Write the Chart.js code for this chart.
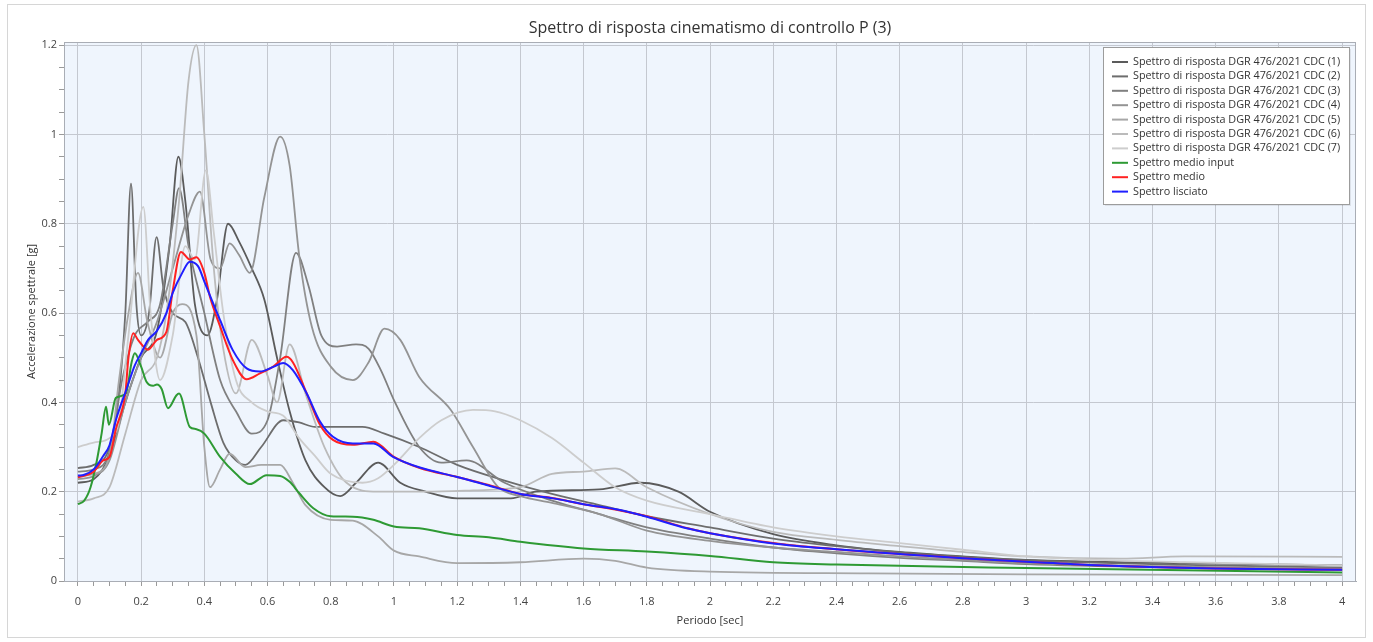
<!DOCTYPE html>
<html>
<head>
<meta charset="utf-8">
<script src="https://cdn.jsdelivr.net/npm/chart.js@4.4.1/dist/chart.umd.min.js"></script>
<style>
  html, body { margin: 0; background: #fff; }
</style>
</head>
<body>
<canvas id="chart" width="1373" height="642"></canvas>
<script>
const chartTitle = "Spettro di risposta cinematismo di controllo P (3)";
const xTitle = "Periodo [sec]";
const yTitle = "Accelerazione spettrale [g]";

const seriesNames = [
  "Spettro di risposta DGR 476/2021 CDC (1)",
  "Spettro di risposta DGR 476/2021 CDC (2)",
  "Spettro di risposta DGR 476/2021 CDC (3)",
  "Spettro di risposta DGR 476/2021 CDC (4)",
  "Spettro di risposta DGR 476/2021 CDC (5)",
  "Spettro di risposta DGR 476/2021 CDC (6)",
  "Spettro di risposta DGR 476/2021 CDC (7)",
  "Spettro medio input",
  "Spettro medio",
  "Spettro lisciato"
];
const seriesColors = ['#5b5b5b', '#6d6d6d', '#808080', '#949494', '#a7a7a7', '#bbbbbb', '#cdcdcd', '#2e9a34', '#ff2222', '#1f1fff'];

// periodi [sec] e accelerazioni [g] per ogni spettro
const t1 = [0, 0.05, 0.1, 0.15, 0.2, 0.25, 0.29, 0.318, 0.34, 0.37, 0.41, 0.44, 0.475, 0.51, 0.55, 0.59, 0.63, 0.67, 0.72, 0.78, 0.83, 0.88, 0.95, 1.02, 1.1, 1.2, 1.37, 1.45, 1.65, 1.78, 1.9, 2.0, 2.2, 2.4, 2.6, 2.8, 3.0, 3.5, 4.0];
const a1 = [0.22, 0.228, 0.28, 0.4, 0.5, 0.56, 0.75, 0.95, 0.85, 0.62, 0.55, 0.63, 0.8, 0.76, 0.7, 0.63, 0.5, 0.38, 0.27, 0.21, 0.19, 0.22, 0.265, 0.22, 0.2, 0.185, 0.185, 0.2, 0.205, 0.22, 0.2, 0.155, 0.105, 0.08, 0.065, 0.055, 0.047, 0.04, 0.035];

const t2 = [0, 0.05, 0.1, 0.13, 0.15, 0.168, 0.185, 0.2, 0.225, 0.249, 0.27, 0.3, 0.34, 0.38, 0.42, 0.46, 0.5, 0.53, 0.58, 0.65, 0.7, 0.75, 0.8, 0.9, 0.97, 1.08, 1.2, 1.35, 1.5, 1.65, 1.8, 2.0, 2.2, 2.4, 2.6, 2.8, 3.0, 3.5, 4.0];
const a2 = [0.253, 0.26, 0.3, 0.42, 0.6, 0.89, 0.62, 0.55, 0.6, 0.77, 0.66, 0.6, 0.58, 0.5, 0.4, 0.31, 0.27, 0.26, 0.3, 0.36, 0.355, 0.345, 0.345, 0.345, 0.33, 0.3, 0.26, 0.225, 0.195, 0.17, 0.145, 0.12, 0.095, 0.078, 0.064, 0.054, 0.046, 0.036, 0.03];

const t3 = [0, 0.05, 0.1, 0.14, 0.18, 0.22, 0.26, 0.3, 0.32, 0.35, 0.4, 0.45, 0.5, 0.55, 0.6, 0.64, 0.69, 0.73, 0.77, 0.82, 0.88, 0.92, 0.96, 1.0, 1.08, 1.15, 1.23, 1.35, 1.5, 1.65, 1.8, 2.0, 2.2, 2.4, 2.6, 2.8, 3.0, 3.5, 4.0];
const a3 = [0.245, 0.25, 0.29, 0.45, 0.55, 0.58, 0.62, 0.8, 0.88, 0.75, 0.6, 0.45, 0.38, 0.33, 0.36, 0.5, 0.735, 0.66, 0.55, 0.525, 0.53, 0.52, 0.47, 0.405, 0.3, 0.265, 0.27, 0.22, 0.18, 0.15, 0.12, 0.095, 0.075, 0.062, 0.052, 0.045, 0.038, 0.03, 0.025];

const t4 = [0, 0.05, 0.1, 0.15, 0.2, 0.25, 0.3, 0.35, 0.386, 0.42, 0.45, 0.48, 0.51, 0.544, 0.59, 0.64, 0.67, 0.7, 0.74, 0.8, 0.87, 0.92, 0.97, 1.02, 1.08, 1.18, 1.25, 1.33, 1.4, 1.5, 1.65, 1.8, 2.0, 2.2, 2.4, 2.6, 2.8, 3.0, 3.5, 4.0];
const a4 = [0.228, 0.235, 0.27, 0.4, 0.5, 0.58, 0.7, 0.82, 0.872, 0.72, 0.7, 0.756, 0.73, 0.69, 0.86, 0.995, 0.93, 0.73, 0.57, 0.48, 0.45, 0.49, 0.565, 0.54, 0.457, 0.383, 0.3, 0.21, 0.19, 0.175, 0.15, 0.113, 0.09, 0.075, 0.065, 0.055, 0.047, 0.04, 0.032, 0.027];

const t5 = [0, 0.05, 0.1, 0.13, 0.16, 0.19, 0.22, 0.26, 0.3, 0.33, 0.375, 0.4, 0.418, 0.45, 0.48, 0.53, 0.58, 0.64, 0.68, 0.72, 0.8, 0.87, 0.95, 1.0, 1.08, 1.2, 1.4, 1.6, 1.7, 1.8, 2.0, 2.5, 3.0, 4.0];
const a5 = [0.235, 0.24, 0.28, 0.45, 0.6, 0.69, 0.58, 0.5, 0.6, 0.62, 0.55, 0.3, 0.21, 0.25, 0.285, 0.255, 0.26, 0.26, 0.22, 0.17, 0.137, 0.135, 0.1, 0.068, 0.055, 0.04, 0.042, 0.05, 0.045, 0.03, 0.021, 0.017, 0.015, 0.013];

const t6 = [0, 0.05, 0.1, 0.15, 0.2, 0.25, 0.28, 0.32, 0.35, 0.375, 0.4, 0.43, 0.46, 0.5, 0.55, 0.6, 0.63, 0.67, 0.72, 0.78, 0.85, 0.95, 1.1, 1.25, 1.4, 1.5, 1.6, 1.7, 1.8, 2.0, 2.2, 2.4, 2.6, 2.8, 3.0, 3.3, 3.5, 4.0];
const a6 = [0.178, 0.185, 0.21, 0.33, 0.45, 0.5, 0.6, 0.85, 1.12, 1.2, 1.0, 0.7, 0.52, 0.42, 0.54, 0.46, 0.4, 0.53, 0.42, 0.3, 0.22, 0.2, 0.2, 0.203, 0.21, 0.24, 0.245, 0.252, 0.21, 0.15, 0.11, 0.092, 0.078, 0.065, 0.055, 0.05, 0.055, 0.054];

const t7 = [0, 0.05, 0.1, 0.13, 0.16, 0.207, 0.23, 0.26, 0.3, 0.34, 0.37, 0.405, 0.43, 0.46, 0.5, 0.55, 0.6, 0.65, 0.7, 0.75, 0.8, 0.9, 0.95, 1.0, 1.08, 1.15, 1.25, 1.32, 1.4, 1.5, 1.6, 1.7, 1.8, 2.0, 2.2, 2.4, 2.6, 2.8, 3.0, 3.2, 3.5, 4.0];
const a7 = [0.3, 0.31, 0.32, 0.36, 0.55, 0.838, 0.6, 0.45, 0.55, 0.75, 0.72, 0.92, 0.78, 0.6, 0.45, 0.4, 0.38, 0.37, 0.32, 0.28, 0.24, 0.22, 0.23, 0.26, 0.32, 0.36, 0.383, 0.38, 0.36, 0.32, 0.265, 0.21, 0.18, 0.15, 0.12, 0.1, 0.085, 0.07, 0.055, 0.048, 0.042, 0.035];

// spettro medio input (verde)
const tg = [0, 0.02, 0.04, 0.06, 0.075, 0.089, 0.098, 0.12, 0.152, 0.17, 0.18, 0.2, 0.217, 0.238, 0.25, 0.265, 0.285, 0.312, 0.32, 0.354, 0.375, 0.4, 0.45, 0.5, 0.544, 0.597, 0.64, 0.67, 0.7, 0.745, 0.8, 0.87, 0.935, 1.0, 1.08, 1.2, 1.3, 1.4, 1.6, 1.8, 2.0, 2.2, 2.4, 3.0, 4.0];
const ag = [0.172, 0.18, 0.21, 0.27, 0.33, 0.39, 0.35, 0.41, 0.42, 0.49, 0.51, 0.48, 0.446, 0.437, 0.44, 0.43, 0.387, 0.416, 0.42, 0.345, 0.34, 0.33, 0.278, 0.24, 0.217, 0.237, 0.235, 0.222, 0.197, 0.163, 0.145, 0.144, 0.137, 0.122, 0.118, 0.103, 0.098, 0.088, 0.073, 0.066, 0.056, 0.042, 0.037, 0.029, 0.019];

// spettro medio (rosso)
const tr = [0, 0.05, 0.08, 0.1, 0.12, 0.15, 0.16, 0.175, 0.19, 0.222, 0.25, 0.28, 0.3, 0.326, 0.354, 0.375, 0.4, 0.418, 0.45, 0.49, 0.534, 0.576, 0.618, 0.66, 0.68, 0.724, 0.766, 0.807, 0.87, 0.935, 1.0, 1.082, 1.2, 1.3, 1.4, 1.5, 1.6, 1.7, 1.8, 1.93, 2.0, 2.2, 2.4, 2.8, 3.0, 3.2, 3.6, 4.0];
const ar = [0.232, 0.245, 0.27, 0.278, 0.34, 0.42, 0.5, 0.555, 0.54, 0.518, 0.54, 0.558, 0.65, 0.737, 0.72, 0.725, 0.69, 0.636, 0.57, 0.495, 0.452, 0.465, 0.48, 0.502, 0.49, 0.42, 0.35, 0.316, 0.305, 0.312, 0.278, 0.253, 0.233, 0.215, 0.195, 0.186, 0.172, 0.16, 0.145, 0.118, 0.107, 0.085, 0.071, 0.051, 0.043, 0.036, 0.028, 0.025];

// spettro lisciato (blu)
const tb = [0, 0.02, 0.05, 0.08, 0.1, 0.12, 0.154, 0.18, 0.2, 0.222, 0.25, 0.28, 0.3, 0.33, 0.354, 0.38, 0.402, 0.423, 0.45, 0.49, 0.534, 0.576, 0.62, 0.65, 0.68, 0.724, 0.766, 0.807, 0.87, 0.935, 0.997, 1.082, 1.2, 1.293, 1.4, 1.504, 1.6, 1.715, 1.8, 1.926, 2.0, 2.2, 2.4, 2.8, 3.0, 3.2, 3.6, 4.0];
const ab = [0.236, 0.238, 0.25, 0.28, 0.304, 0.36, 0.43, 0.483, 0.51, 0.54, 0.56, 0.6, 0.645, 0.69, 0.715, 0.705, 0.667, 0.63, 0.584, 0.517, 0.476, 0.469, 0.48, 0.488, 0.472, 0.42, 0.357, 0.323, 0.308, 0.308, 0.278, 0.254, 0.233, 0.215, 0.195, 0.185, 0.172, 0.159, 0.144, 0.118, 0.107, 0.084, 0.071, 0.051, 0.043, 0.036, 0.028, 0.025];

const periods = [t1, t2, t3, t4, t5, t6, t7, tg, tr, tb];
const values = [a1, a2, a3, a4, a5, a6, a7, ag, ar, ab];

const fontFamily = "'Open Sans', 'Noto Sans', sans-serif";
Chart.defaults.font.family = fontFamily;
Chart.defaults.color = '#333';

const datasets = seriesNames.map((name, i) => ({
  label: name,
  data: periods[i].map((x, j) => ({ x: x, y: values[i][j] })),
  borderColor: seriesColors[i],
  borderWidth: i < 7 ? 1.8 : 2,
  pointRadius: 0,
  cubicInterpolationMode: 'monotone',
  fill: false,
  order: seriesNames.length - i
}));

function isMajor(v) {
  return Math.round(v * 100) % 20 === 0;
}

// sfondo area grafico, bordo, titolo centrato sul grafico
const plotFrame = {
  id: 'plotFrame',
  beforeDraw(chart) {
    const c = chart.ctx, a = chart.chartArea;
    c.save();
    c.fillStyle = '#eff5fd';
    c.fillRect(a.left, a.top, a.right - a.left, a.bottom - a.top);
    c.restore();
  },
  afterDraw(chart) {
    const c = chart.ctx, a = chart.chartArea;
    c.save();
    c.strokeStyle = '#a9adb5';
    c.lineWidth = 1;
    c.strokeRect(a.left + 0.5, a.top + 0.5, a.right - a.left - 1, a.bottom - a.top);
    c.strokeStyle = '#d6d6d6';
    c.strokeRect(7.5, 4.5, chart.width - 15, chart.height - 9);
    c.font = "16px " + fontFamily;
    c.fillStyle = '#333';
    c.textAlign = 'center';
    c.textBaseline = 'middle';
    c.fillText(chartTitle, (a.left + a.right) / 2, 28);
    c.restore();
  }
};

// legenda dentro l'area grafico, in alto a destra
const boxLegend = {
  id: 'boxLegend',
  afterDraw(chart) {
    const c = chart.ctx, a = chart.chartArea;
    const w = 246, h = 157;
    const x = a.right - 253, y = a.top + 5;
    c.save();
    c.fillStyle = 'rgba(0,0,0,0.08)';
    c.fillRect(x + 2, y + 2, w, h);
    c.fillStyle = '#ffffff';
    c.fillRect(x, y, w, h);
    c.strokeStyle = '#9c9c9c';
    c.strokeRect(x + 0.5, y + 0.5, w, h);
    c.font = "10.8px " + fontFamily;
    c.textBaseline = 'middle';
    chart.data.datasets.forEach((ds, i) => {
      const ly = y + 15 + i * 14.4;
      c.strokeStyle = ds.borderColor;
      c.lineWidth = 2;
      c.beginPath();
      c.moveTo(x + 9, ly);
      c.lineTo(x + 25, ly);
      c.stroke();
      c.fillStyle = '#333';
      c.fillText(ds.label, x + 30, ly);
    });
    c.restore();
  }
};

new Chart(document.getElementById('chart'), {
  type: 'line',
  data: { datasets: datasets },
  plugins: [plotFrame, boxLegend],
  options: {
    responsive: false,
    animation: false,
    layout: { padding: { left: 25, right: 17, top: 0, bottom: 15 } },
    plugins: {
      legend: { display: false },
      tooltip: { enabled: false },
      title: {
        display: true,
        text: chartTitle,
        color: 'rgba(0,0,0,0)',
        font: { size: 15, weight: 'normal' },
        padding: { top: 19, bottom: 5 }
      }
    },
    scales: {
      x: {
        type: 'linear',
        min: -0.044,
        max: 4.044,
        afterFit: s => { s.height = 46; },
        ticks: {
          stepSize: 0.05,
          autoSkip: false,
          maxRotation: 0,
          includeBounds: false,
          padding: 9,
          font: { size: 11 },
          color: '#444',
          callback: v => isMajor(v) ? String(+v.toFixed(1)) : ''
        },
        grid: {
          color: ctx => ctx.tick && isMajor(ctx.tick.value) ? '#c4c8d0' : 'rgba(0,0,0,0)',
          tickColor: '#9a9a9a',
          tickLength: 5
        },
        border: { display: true, color: '#a9adb5' },
        title: { display: true, text: xTitle, font: { size: 11 }, color: '#333', padding: { top: 0, bottom: 0 } }
      },
      y: {
        min: 0,
        max: 1.207,
        afterFit: s => { s.width = 39; },
        ticks: {
          stepSize: 0.05,
          autoSkip: false,
          includeBounds: false,
          padding: 2,
          font: { size: 11 },
          color: '#444',
          callback: v => isMajor(v) ? String(+v.toFixed(1)) : ''
        },
        grid: {
          color: ctx => ctx.tick && isMajor(ctx.tick.value) ? '#c4c8d0' : 'rgba(0,0,0,0)',
          tickColor: '#9a9a9a',
          tickLength: 5
        },
        border: { display: true, color: '#a9adb5' },
        title: { display: true, text: yTitle, font: { size: 11 }, color: '#333', padding: { top: 0, bottom: 0 } }
      }
    }
  }
});
</script>
</body>
</html>
